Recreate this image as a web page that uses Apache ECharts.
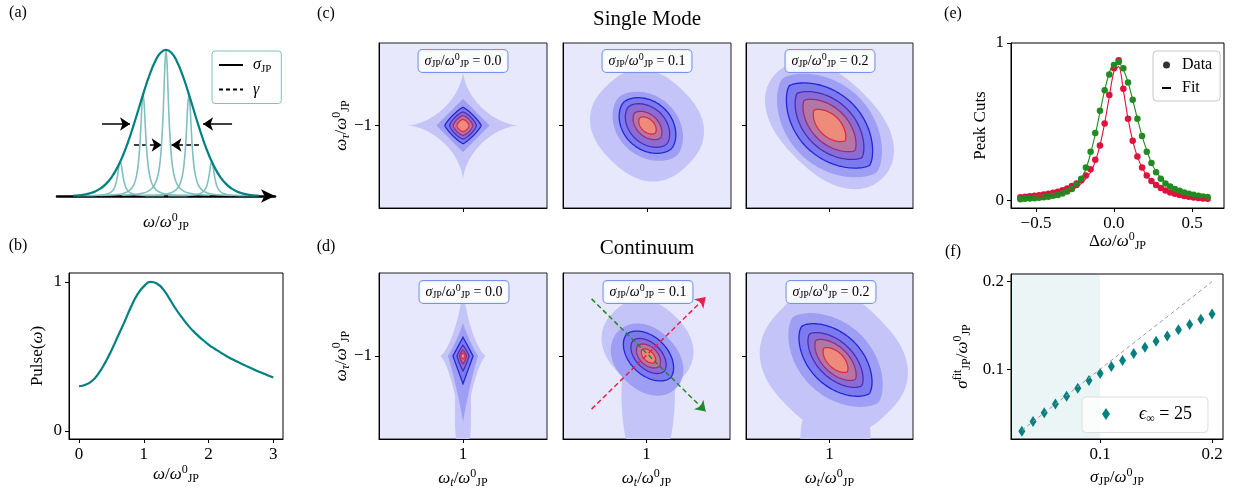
<!DOCTYPE html>
<html>
<head>
<meta charset="utf-8">
<script src="https://cdn.jsdelivr.net/npm/echarts@6/dist/echarts.min.js"></script>
<style>
html, body { margin: 0; padding: 0; background: #fff; }
#main { width: 1237px; height: 492px; }
</style>
</head>
<body>
<div id="main"></div>
<script>
const FONT = 'Liberation Serif'

// (a) gaussian envelope + lorentzian lines
const envX = [-0.85, -0.8, -0.75, -0.7, -0.65, -0.6, -0.55, -0.5, -0.45, -0.4, -0.35, -0.3, -0.25, -0.2, -0.15, -0.1, -0.05, 0, 0.05, 0.1, 0.15, 0.2, 0.25, 0.3, 0.35, 0.4, 0.45, 0.5, 0.55, 0.6, 0.65, 0.7, 0.75, 0.8, 0.85]
const envY = [0.003, 0.005, 0.010, 0.018, 0.031, 0.052, 0.083, 0.128, 0.190, 0.269, 0.366, 0.478, 0.599, 0.720, 0.831, 0.921, 0.980, 1, 0.980, 0.921, 0.831, 0.720, 0.599, 0.478, 0.366, 0.269, 0.190, 0.128, 0.083, 0.052, 0.031, 0.018, 0.010, 0.005, 0.003]
const linePos = [-0.42, -0.21, 0, 0.21, 0.42]
const lineHeight = [0.235, 0.696, 1, 0.696, 0.235]
const lineOffsets = [-0.4, -0.3, -0.22, -0.17, -0.13, -0.1, -0.08, -0.06, -0.045, -0.03, -0.02, -0.01, 0, 0.01, 0.02, 0.03, 0.045, 0.06, 0.08, 0.1, 0.13, 0.17, 0.22, 0.3, 0.4]
const lineProfile = [0.006, 0.010, 0.018, 0.030, 0.051, 0.083, 0.123, 0.2, 0.308, 0.5, 0.692, 0.9, 1, 0.9, 0.692, 0.5, 0.308, 0.2, 0.123, 0.083, 0.051, 0.030, 0.018, 0.010, 0.006]
const sigmaArrows = [[[-0.587, 0.493], [-0.33, 0.493]], [[0.606, 0.493], [0.34, 0.493]]]
const gammaArrows = [[[-0.294, 0.349], [-0.04, 0.349]], [[0.303, 0.349], [0.05, 0.349]]]

// (b) pulse
const pulseW = [0, 0.1, 0.2, 0.3, 0.4, 0.5, 0.6, 0.7, 0.8, 0.9, 1.0, 1.1, 1.2, 1.3, 1.4, 1.5, 1.6, 1.7, 1.8, 1.9, 2.0, 2.1, 2.2, 2.3, 2.4, 2.5, 2.6, 2.7, 2.8, 2.9, 3.0]
const pulseAmp = [0.30, 0.31, 0.335, 0.385, 0.455, 0.54, 0.635, 0.73, 0.83, 0.915, 0.97, 1.0, 0.99, 0.95, 0.885, 0.815, 0.755, 0.70, 0.655, 0.615, 0.58, 0.55, 0.522, 0.497, 0.474, 0.453, 0.433, 0.413, 0.394, 0.376, 0.358]

// (c),(d) contour levels: [level, cx, cy, aPos, aNeg, bPos, bNeg, angle, p, q]
const sigmaVals = ['0.0', '0.1', '0.2']
const c1Shapes = [
  [1, 1, -1, 0.33, 0.33, 0.33, 0.33, 0, 0.63, 0.63],
  [2, 1, -1, 0.158, 0.158, 0.162, 0.162, 0, 1.0, 1.0],
  [3, 1, -1, 0.108, 0.108, 0.11, 0.11, 0, 1.2, 1.2],
  [4, 1, -1, 0.08, 0.08, 0.082, 0.082, 0, 1.35, 1.35],
  [5, 1, -1, 0.058, 0.058, 0.06, 0.06, 0, 1.4, 1.4],
  [6, 1, -1, 0.036, 0.036, 0.037, 0.037, 0, 1.5, 1.5]
]
const c2Shapes = [
  [1, 1, -1, 0.34, 0.34, 0.30, 0.30, -45, 2.4, 2.4],
  [2, 1.003, -1.003, 0.25, 0.244, 0.18, 0.18, -45, 2, 1.7],
  [3, 1.003, -1, 0.2, 0.2, 0.143, 0.143, -45, 2, 1.7],
  [4, 1.003, -1, 0.16, 0.16, 0.107, 0.107, -45, 2, 1.7],
  [5, 1.003, -1, 0.107, 0.107, 0.065, 0.065, -45, 2, 1.7],
  [6, 1.003, -1, 0.065, 0.065, 0.039, 0.039, -45, 2, 1.7]
]
const c3Shapes = [
  [1, 1, -1, 0.45, 0.45, 0.28, 0.28, -45, 2.4, 2.1],
  [2, 1, -1, 0.40, 0.40, 0.245, 0.245, -45, 2, 1.5],
  [3, 1, -1, 0.34, 0.34, 0.19, 0.19, -45, 2, 1.4],
  [4, 1, -1, 0.274, 0.274, 0.145, 0.145, -45, 2, 1.4],
  [5, 1, -1, 0.214, 0.214, 0.105, 0.105, -45, 2, 1.4],
  [6, 1, -1, 0.131, 0.131, 0.065, 0.065, -45, 2, 1.4]
]
const d1Shapes = [
  [1, 1, -1, 0.43, 0.60, 0.137, 0.137, 90, 0.7, 0.7],
  [1, 1, -1.35, 0.2, 0.2, 0.048, 0.048, 90, 3, 3],
  [2, 1, -1, 0.2, 0.4, 0.09, 0.09, 90, 0.9, 0.9],
  [3, 1, -1, 0.113, 0.167, 0.06, 0.06, 90, 1, 1],
  [4, 1, -1, 0.065, 0.09, 0.036, 0.036, 90, 1.1, 1.1],
  [5, 1, -1, 0.036, 0.048, 0.021, 0.021, 90, 1.2, 1.2],
  [6, 1, -1, 0.018, 0.018, 0.012, 0.012, 90, 1.4, 1.4]
]
const d2Shapes = [
  [1, 1.006, -0.935, 0.285, 0.285, 0.24, 0.24, -45, 2.3, 2.3],
  [1, 1.01, -1.226, 0.5, 0.5, 0.16, 0.16, 90, 2, 2],
  [2, 1.0, -1.018, 0.25, 0.238, 0.18, 0.18, -45, 2.2, 2],
  [3, 1.012, -1, 0.185, 0.185, 0.113, 0.113, -45, 2, 1.8],
  [4, 1.012, -1, 0.131, 0.131, 0.077, 0.077, -45, 2, 1.8],
  [5, 1.012, -1, 0.089, 0.089, 0.054, 0.054, -45, 2, 1.8],
  [6, 1.012, -1, 0.054, 0.054, 0.03, 0.03, -45, 2, 1.8]
]
const d3Shapes = [
  [1, 1.036, -1.024, 0.446, 0.446, 0.36, 0.40, -45, 2.5, 2.5],
  [1, 1.036, -1.5, 0.21, 0.21, 0.24, 0.24, 0, 2.5, 2.5],
  [2, 1.036, -1.024, 0.363, 0.363, 0.214, 0.214, -45, 2, 1.5],
  [3, 1.036, -1.024, 0.286, 0.286, 0.155, 0.155, -45, 2, 1.5],
  [4, 1.036, -1.024, 0.22, 0.22, 0.107, 0.107, -45, 2, 1.5],
  [5, 1.036, -1.024, 0.166, 0.166, 0.077, 0.077, -45, 2, 1.5],
  [6, 1.036, -1.024, 0.1, 0.1, 0.048, 0.048, -45, 2, 1.5]
]
const redCut = [[0.671, -1.32], [1.355, -0.645]]
const greenCut = [[0.671, -0.656], [1.355, -1.335]]

// (e) peak cuts
const eX = [-0.60, -0.57, -0.54, -0.51, -0.48, -0.45, -0.42, -0.39, -0.36, -0.33, -0.30, -0.27, -0.24, -0.21, -0.18, -0.15, -0.12, -0.09, -0.06, -0.03, 0.00, 0.03, 0.06, 0.09, 0.12, 0.15, 0.18, 0.21, 0.24, 0.27, 0.30, 0.33, 0.36, 0.39, 0.42, 0.45, 0.48, 0.51, 0.54, 0.57, 0.60]
const eRed = [0.022, 0.025, 0.028, 0.031, 0.035, 0.039, 0.044, 0.050, 0.057, 0.066, 0.078, 0.093, 0.11, 0.13, 0.16, 0.20, 0.26, 0.35, 0.49, 0.67, 0.84, 0.89, 0.71, 0.52, 0.38, 0.28, 0.21, 0.16, 0.125, 0.10, 0.08, 0.065, 0.053, 0.044, 0.036, 0.030, 0.025, 0.021, 0.017, 0.014, 0.012]
const eGreen = [0.010, 0.012, 0.014, 0.016, 0.019, 0.022, 0.026, 0.031, 0.037, 0.046, 0.058, 0.075, 0.10, 0.14, 0.21, 0.31, 0.43, 0.57, 0.70, 0.80, 0.86, 0.88, 0.84, 0.75, 0.64, 0.52, 0.41, 0.31, 0.24, 0.18, 0.14, 0.11, 0.09, 0.075, 0.063, 0.053, 0.045, 0.038, 0.032, 0.027, 0.023]
const eRedFit = [0.016, 0.018, 0.020, 0.022, 0.025, 0.028, 0.032, 0.036, 0.042, 0.049, 0.058, 0.070, 0.086, 0.108, 0.14, 0.18, 0.25, 0.35, 0.49, 0.66, 0.82, 0.85, 0.70, 0.52, 0.38, 0.28, 0.21, 0.16, 0.125, 0.10, 0.08, 0.065, 0.053, 0.044, 0.036, 0.030, 0.025, 0.021, 0.017, 0.014, 0.012]
const eGreenFit = [0.012, 0.014, 0.016, 0.018, 0.021, 0.024, 0.028, 0.033, 0.040, 0.049, 0.061, 0.078, 0.10, 0.14, 0.20, 0.30, 0.42, 0.56, 0.70, 0.81, 0.87, 0.87, 0.83, 0.75, 0.64, 0.52, 0.41, 0.32, 0.24, 0.185, 0.145, 0.115, 0.094, 0.078, 0.065, 0.055, 0.046, 0.039, 0.033, 0.028, 0.024]

// (f) fitted width
const fX = [0.03, 0.04, 0.05, 0.06, 0.07, 0.08, 0.09, 0.10, 0.11, 0.12, 0.13, 0.14, 0.15, 0.16, 0.17, 0.18, 0.19, 0.20]
const fY = [0.029, 0.040, 0.050, 0.060, 0.069, 0.078, 0.087, 0.095, 0.103, 0.110, 0.118, 0.125, 0.132, 0.138, 0.145, 0.151, 0.157, 0.163]
const refX = [0.03, 0.2]
const refY = [0.03, 0.2]
const shadeX = [0.0203, 0.1]

const levelFill = [null, '#c4c4f8', '#9e9ef4', '#7b7bef', '#8a6cd6', '#b676a4', '#ef8b7b']
const levelLine = [null, null, null, '#2424d8', '#4b2cb8', '#9a2c7c', '#d62c4c']

function rich (size) {
  const sm = Math.round(size * 0.68)
  return {
    r: { fontFamily: FONT, fontSize: size, color: '#000', fill: '#000' },
    i: { fontFamily: FONT, fontSize: size, fontStyle: 'italic', color: '#000', fill: '#000' },
    sub: { fontFamily: FONT, fontSize: sm, padding: [Math.round(size * 0.5), 0, 0, 0], color: '#000', fill: '#000' },
    subi: { fontFamily: FONT, fontSize: sm, fontStyle: 'italic', padding: [Math.round(size * 0.5), 0, 0, 0], color: '#000', fill: '#000' },
    sup: { fontFamily: FONT, fontSize: sm, padding: [0, 0, Math.round(size * 0.55), 0], color: '#000', fill: '#000' }
  }
}

const OM0 = '{i|ω}{sup|0}{sub|JP}'
const labOmega = '{i|ω}{r|/}' + OM0
const labTau = '{i|ω}{subi|τ}{r|/}' + OM0
const labT = '{i|ω}{subi|t}{r|/}' + OM0
const labDelta = '{r|Δ}{i|ω}{r|/}' + OM0
const labSigma = '{i|σ}{sub|JP}{r|/}' + OM0
const labSigmaFit = '{i|σ}{sup|fit}{sub|JP}{r|/}' + OM0
const minus = v => String(v).replace('-', '−')

function axis (g, min, max, o, vertical) {
  const ax = {
    gridIndex: g,
    type: 'value',
    min: min,
    max: max,
    position: vertical ? 'left' : 'bottom',
    axisLine: { show: o.line !== false, onZero: false, lineStyle: { color: '#000', width: 1 } },
    axisTick: { show: !!o.ticks, customValues: o.ticks, length: 4, lineStyle: { color: '#000' } },
    axisLabel: { show: !!o.labels, customValues: o.ticks, formatter: o.fmt || minus, margin: 7, fontFamily: FONT, fontSize: 17, color: '#000' },
    splitLine: { show: false },
    name: o.name || '',
    nameLocation: 'middle',
    nameGap: o.gap || 20,
    nameMoveOverlap: false,
    nameTextStyle: { rich: rich(17), fontFamily: FONT, fontSize: 17, color: '#000' }
  }
  if (vertical) ax.nameRotate = 90
  return ax
}

function contourSeries (g, shapes) {
  return {
    type: 'custom',
    xAxisIndex: g,
    yAxisIndex: g,
    silent: true,
    data: shapes,
    renderItem: function (params, api) {
      const lv = api.value(0)
      const cx = api.value(1)
      const cy = api.value(2)
      const aP = api.value(3)
      const aN = api.value(4)
      const bP = api.value(5)
      const bN = api.value(6)
      const th = api.value(7) * Math.PI / 180
      const p = api.value(8)
      const q = api.value(9)
      const pts = []
      for (let k = 0; k < 160; k++) {
        const t = 2 * Math.PI * k / 160
        const c = Math.cos(t)
        const s = Math.sin(t)
        const u = Math.sign(c) * Math.pow(Math.abs(c), 2 / p) * (c >= 0 ? aP : aN)
        const v = Math.sign(s) * Math.pow(Math.abs(s), 2 / q) * (s >= 0 ? bP : bN)
        pts.push(api.coord([cx + u * Math.cos(th) - v * Math.sin(th), cy + u * Math.sin(th) + v * Math.cos(th)]))
      }
      const cs = params.coordSys
      return {
        type: 'group',
        clipPath: { type: 'rect', shape: { x: cs.x, y: cs.y, width: cs.width, height: cs.height } },
        children: [{
          type: 'polygon',
          shape: { points: pts },
          style: { fill: levelFill[lv], stroke: levelLine[lv] || null, lineWidth: 1.3 }
        }]
      }
    }
  }
}

function arrowSeries (g, segs, color, dashed, width) {
  return {
    type: 'lines',
    coordinateSystem: 'cartesian2d',
    xAxisIndex: g,
    yAxisIndex: g,
    symbol: ['none', 'arrow'],
    symbolSize: 10,
    silent: true,
    lineStyle: { color: color, width: width, type: dashed ? [5, 3] : 'solid', opacity: 1 },
    data: segs.map(s => ({ coords: s }))
  }
}

const zip = (xs, ys) => xs.map((x, i) => [x, ys[i]])

const contourBox = { show: true, borderColor: '#222', borderWidth: 1, backgroundColor: '#e8e8fc', outerBoundsMode: 'none' }
const plainBox = { show: true, borderColor: '#000', borderWidth: 1, backgroundColor: 'transparent', outerBoundsMode: 'none' }

const grids = [
  { left: 57, top: 47, width: 218, height: 149, outerBoundsMode: 'none' },
  Object.assign({ left: 69, top: 273, width: 214, height: 166 }, plainBox),
  Object.assign({ left: 379, top: 43, width: 168, height: 165 }, contourBox),
  Object.assign({ left: 563, top: 43, width: 168, height: 165 }, contourBox),
  Object.assign({ left: 746, top: 43, width: 167, height: 165 }, contourBox),
  Object.assign({ left: 379, top: 273, width: 168, height: 166 }, contourBox),
  Object.assign({ left: 563, top: 273, width: 167, height: 166 }, contourBox),
  Object.assign({ left: 746, top: 273, width: 167, height: 166 }, contourBox),
  Object.assign({ left: 1011, top: 43, width: 213, height: 165 }, plainBox),
  Object.assign({ left: 1011, top: 274, width: 212, height: 165 }, plainBox)
]

const xAxes = [
  Object.assign(axis(0, -1, 1, { name: labOmega, gap: 16 }), {
    axisLine: { show: true, onZero: false, symbol: ['none', 'arrow'], symbolSize: [10, 14], lineStyle: { color: '#000', width: 2.5 } }
  }),
  axis(1, -0.155, 3.15, { ticks: [0, 1, 2, 3], labels: true, name: labOmega, gap: 25 }),
  axis(2, 0.5, 1.5, { ticks: [1] }),
  axis(3, 0.5, 1.5, { ticks: [1] }),
  axis(4, 0.5, 1.5, { ticks: [1] }),
  axis(5, 0.5, 1.5, { ticks: [1], labels: true, name: labT, gap: 29 }),
  axis(6, 0.5, 1.5, { ticks: [1], labels: true, name: labT, gap: 29 }),
  axis(7, 0.5, 1.5, { ticks: [1], labels: true, name: labT, gap: 29 }),
  axis(8, -0.66, 0.705, { ticks: [-0.5, 0, 0.5], labels: true, fmt: v => minus(v.toFixed(1)), name: labDelta, gap: 23 }),
  axis(9, 0.0203, 0.2098, { ticks: [0.1, 0.2], labels: true, fmt: v => v.toFixed(1), name: labSigma, gap: 28 })
]
const yAxes = [
  axis(0, 0, 1.02, { line: false }, true),
  axis(1, -0.054, 1.06, { ticks: [0, 1], labels: true, name: '{r|Pulse(}{i|ω}{r|)}', gap: 23 }, true),
  axis(2, -1.5, -0.5, { ticks: [-1], labels: true, name: labTau, gap: 27 }, true),
  axis(3, -1.5, -0.5, { ticks: [-1] }, true),
  axis(4, -1.5, -0.5, { ticks: [-1] }, true),
  axis(5, -1.5, -0.5, { ticks: [-1], labels: true, name: labTau, gap: 27 }, true),
  axis(6, -1.5, -0.5, { ticks: [-1] }, true),
  axis(7, -1.5, -0.5, { ticks: [-1] }, true),
  axis(8, -0.046, 1.0, { ticks: [0, 1], labels: true, name: '{r|Peak Cuts}', gap: 22 }, true),
  axis(9, 0.0201, 0.2088, { ticks: [0.1, 0.2], labels: true, fmt: v => v.toFixed(1), name: labSigmaFit, gap: 38 }, true)
]

const series = []
// (a)
linePos.forEach((c, k) => {
  series.push({
    type: 'line', xAxisIndex: 0, yAxisIndex: 0, showSymbol: false, smooth: 0.3, silent: true,
    lineStyle: { color: '#80c0c0', width: 1.6 },
    data: lineOffsets.map((d, j) => [c + d, lineHeight[k] * lineProfile[j]])
  })
})
series.push({
  type: 'line', xAxisIndex: 0, yAxisIndex: 0, showSymbol: false, smooth: true, silent: true,
  lineStyle: { color: '#008080', width: 2.2 }, data: zip(envX, envY)
})
series.push(arrowSeries(0, sigmaArrows, '#000', false, 1.5))
series.push(arrowSeries(0, gammaArrows, '#000', true, 1.5))
series.push({ type: 'line', name: 'sig', xAxisIndex: 0, yAxisIndex: 0, data: [], symbol: 'none', lineStyle: { color: '#000', width: 1.5 }, itemStyle: { color: '#000' } })
series.push({ type: 'line', name: 'gam', xAxisIndex: 0, yAxisIndex: 0, data: [], symbol: 'none', lineStyle: { color: '#000', width: 1.5, type: [4, 3] }, itemStyle: { color: '#000' } })
// (b)
series.push({
  type: 'line', xAxisIndex: 1, yAxisIndex: 1, showSymbol: false, smooth: true, silent: true,
  lineStyle: { color: '#008080', width: 2.2 }, data: zip(pulseW, pulseAmp)
})
// (c),(d)
series.push(contourSeries(2, c1Shapes))
series.push(contourSeries(3, c2Shapes))
series.push(contourSeries(4, c3Shapes))
series.push(contourSeries(5, d1Shapes))
series.push(contourSeries(6, d2Shapes))
series.push(contourSeries(7, d3Shapes))
series.push(arrowSeries(6, [greenCut], '#1f8a2a', true, 1.5))
series.push(arrowSeries(6, [redCut], '#e8204a', true, 1.5))
// (e)
series.push({ type: 'scatter', xAxisIndex: 8, yAxisIndex: 8, symbolSize: 6.5, itemStyle: { color: '#dc143c', opacity: 1 }, data: zip(eX, eRed), silent: true })
series.push({ type: 'scatter', xAxisIndex: 8, yAxisIndex: 8, symbolSize: 6.5, itemStyle: { color: '#228b22', opacity: 1 }, data: zip(eX, eGreen), silent: true })
series.push({ type: 'line', xAxisIndex: 8, yAxisIndex: 8, showSymbol: false, smooth: 0.3, lineStyle: { color: '#dc143c', width: 1.1 }, data: zip(eX, eRedFit), silent: true })
series.push({ type: 'line', xAxisIndex: 8, yAxisIndex: 8, showSymbol: false, smooth: 0.3, lineStyle: { color: '#228b22', width: 1.1 }, data: zip(eX, eGreenFit), silent: true })
series.push({ type: 'scatter', name: 'Data', xAxisIndex: 8, yAxisIndex: 8, data: [], symbol: 'circle', itemStyle: { color: '#000' } })
series.push({ type: 'line', name: 'Fit', xAxisIndex: 8, yAxisIndex: 8, data: [], symbol: 'none', lineStyle: { color: '#000', width: 1.5 }, itemStyle: { color: '#000' } })
// (f)
series.push({
  type: 'line', xAxisIndex: 9, yAxisIndex: 9, showSymbol: false, silent: true,
  lineStyle: { color: '#9a9a9a', width: 1, type: [4, 3] }, data: zip(refX, refY),
  markArea: { silent: true, itemStyle: { color: 'rgba(0,128,128,0.08)' }, data: [[{ xAxis: shadeX[0] }, { xAxis: shadeX[1] }]] }
})
series.push({
  type: 'scatter', name: 'eps', xAxisIndex: 9, yAxisIndex: 9, symbol: 'diamond', symbolSize: [7, 11],
  itemStyle: { color: '#008080', opacity: 1 }, data: zip(fX, fY), silent: true
})

const boxRich = rich(14)
function boxText (x, y, val) {
  return {
    type: 'text', x: x, y: y, z: 100,
    style: {
      text: '{i|σ}{sub|JP}{r|/}{i|ω}{sup|0}{sub|JP}{r| = ' + val + '}',
      rich: boxRich, align: 'center', verticalAlign: 'middle',
      backgroundColor: 'rgba(255,255,255,0.85)', borderColor: '#7393ee', borderWidth: 1, borderRadius: 4, padding: [2, 6, 2, 6]
    }
  }
}
function plainText (x, y, txt, size) {
  return { type: 'text', x: x, y: y, z: 100, style: { text: txt, fontFamily: FONT, fontSize: size, fill: '#000', align: 'center', verticalAlign: 'middle' } }
}

const hideSymbol = { opacity: 0 }

const option = {
  animation: false,
  backgroundColor: '#fff',
  grid: grids,
  xAxis: xAxes,
  yAxis: yAxes,
  series: series,
  legend: [
    {
      data: [{ name: 'sig', itemStyle: hideSymbol }, { name: 'gam', itemStyle: hideSymbol }],
      left: 212, top: 51, orient: 'vertical', selectedMode: false,
      itemWidth: 24, itemHeight: 10, itemGap: 7, padding: [6, 10, 6, 6],
      borderColor: '#80c0c0', borderWidth: 1, borderRadius: 3, backgroundColor: '#fff',
      formatter: n => (n === 'sig' ? '{i|σ}{sub|JP}' : '{i|γ}'),
      textStyle: { rich: rich(16), fontFamily: FONT, fontSize: 16, padding: [0, 0, 0, 5] }
    },
    {
      data: ['Data', { name: 'Fit', itemStyle: hideSymbol }],
      left: 1153, top: 51, orient: 'vertical', selectedMode: false,
      itemWidth: 9, itemHeight: 7, itemGap: 7, padding: [6, 8, 5, 8],
      borderColor: '#c8c8c8', borderWidth: 1, borderRadius: 4, backgroundColor: '#fff',
      textStyle: { fontFamily: FONT, fontSize: 16, color: '#000', padding: [0, 0, 0, 6] }
    },
    {
      data: ['eps'], left: 1082, top: 397, orient: 'vertical', selectedMode: false,
      itemWidth: 8, itemHeight: 12, padding: [8, 16, 8, 20],
      borderColor: '#dddddd', borderWidth: 1, borderRadius: 4, backgroundColor: 'rgba(255,255,255,0.8)',
      formatter: () => '{i|ϵ}{sub|∞}{r| = 25}',
      textStyle: { rich: rich(18), fontFamily: FONT, fontSize: 18, padding: [0, 0, 0, 24] }
    }
  ],
  graphic: [
    plainText(18, 13, '(a)', 16),
    plainText(18, 246, '(b)', 16),
    plainText(326, 14, '(c)', 16),
    plainText(326, 247, '(d)', 16),
    plainText(953, 14, '(e)', 16),
    plainText(953, 252, '(f)', 16),
    plainText(647, 19, 'Single Mode', 21),
    plainText(647, 248, 'Continuum', 21),
    boxText(463, 61, sigmaVals[0]),
    boxText(647, 61, sigmaVals[1]),
    boxText(830, 61, sigmaVals[2]),
    boxText(464, 292, sigmaVals[0]),
    boxText(648, 292, sigmaVals[1]),
    boxText(831, 292, sigmaVals[2])
  ]
}

const chart = echarts.init(document.getElementById('main'), null, { renderer: 'canvas' })
chart.setOption(option)
window.addEventListener('resize', () => chart.resize())
</script>
</body>
</html>
